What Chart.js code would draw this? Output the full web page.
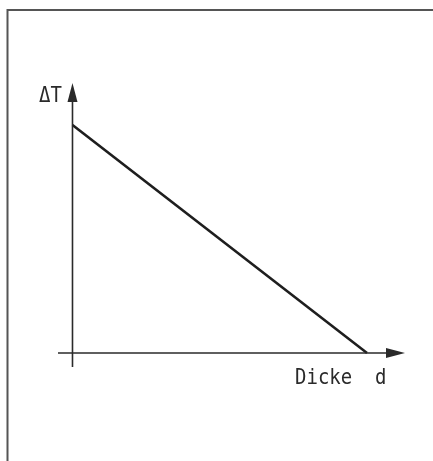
<!DOCTYPE html>
<html>
<head>
<meta charset="utf-8">
<script src="https://cdn.jsdelivr.net/npm/chart.js@4/dist/chart.umd.min.js"></script>
<style>
  html, body { margin:0; padding:0; background:#fff; }
  #wrap { width:433px; height:461px; position:relative; }
</style>
</head>
<body>
<div id="wrap"><canvas id="c" width="433" height="461"></canvas></div>
<script>
'use strict';

/* ---- data: schematic, relative units ---------------------------------- */
const thickness = [0, 1];          // Dicke d
const deltaT    = [1, 0];          // ΔT
const yLabel = 'ΔT';
const xLabel = 'Dicke  d';

const INK = '#2a2a2a';
const FONT = '19px "DejaVu Sans Mono", monospace';

/* text drawn slightly taller, like the typewriter lettering of the original */
function tallText(g, s, x, y){
  g.save();
  g.translate(x, y); g.scale(1, 1.08);
  g.fillText(s, 0, 0);
  g.restore();
}

/* frame, axes with arrow heads and the two labels */
const sketch = {
  id: 'sketch',
  beforeDraw(chart){
    const g = chart.ctx;
    g.save();
    g.strokeStyle = '#555'; g.lineWidth = 2;
    g.beginPath();
    g.moveTo(7.5, 461); g.lineTo(7.5, 10); g.lineTo(433, 10);
    g.stroke();
    g.restore();
  },
  afterDraw(chart){
    const g = chart.ctx, a = chart.chartArea;
    const x0 = chart.scales.x.getPixelForValue(0);
    const y0 = chart.scales.y.getPixelForValue(0);
    g.save();
    g.strokeStyle = INK; g.fillStyle = INK; g.lineWidth = 1.6;
    // x axis
    g.beginPath(); g.moveTo(a.left, y0); g.lineTo(a.right - 10, y0); g.stroke();
    g.beginPath(); g.moveTo(a.right, y0); g.lineTo(a.right - 19, y0 - 5); g.lineTo(a.right - 19, y0 + 5); g.closePath(); g.fill();
    // y axis
    g.beginPath(); g.moveTo(x0, a.bottom); g.lineTo(x0, a.top + 10); g.stroke();
    g.beginPath(); g.moveTo(x0, a.top); g.lineTo(x0 - 5, a.top + 19); g.lineTo(x0 + 5, a.top + 19); g.closePath(); g.fill();
    // labels
    g.font = FONT; g.textBaseline = 'alphabetic'; g.textAlign = 'left';
    tallText(g, yLabel, 39, 102);
    tallText(g, xLabel, 295, 384);
    g.restore();
  }
};

new Chart(document.getElementById('c'), {
  type: 'line',
  data: {
    datasets: [{
      data: thickness.map((x, i) => ({ x, y: deltaT[i] })),
      borderColor: '#1e1e1e', borderWidth: 2.6,
      pointRadius: 0, fill: false, tension: 0
    }]
  },
  options: {
    responsive: false, animation: false,
    layout: { padding: { left: 58, right: 28, top: 83, bottom: 94 } },
    scales: {
      x: { type: 'linear', display: false, min: -0.0492, max: 1.129 },
      y: { type: 'linear', display: false, min: -0.0614, max: 1.184 }
    },
    plugins: { legend: { display: false }, tooltip: { enabled: false } }
  },
  plugins: [sketch]
});
</script>
</body>
</html>
